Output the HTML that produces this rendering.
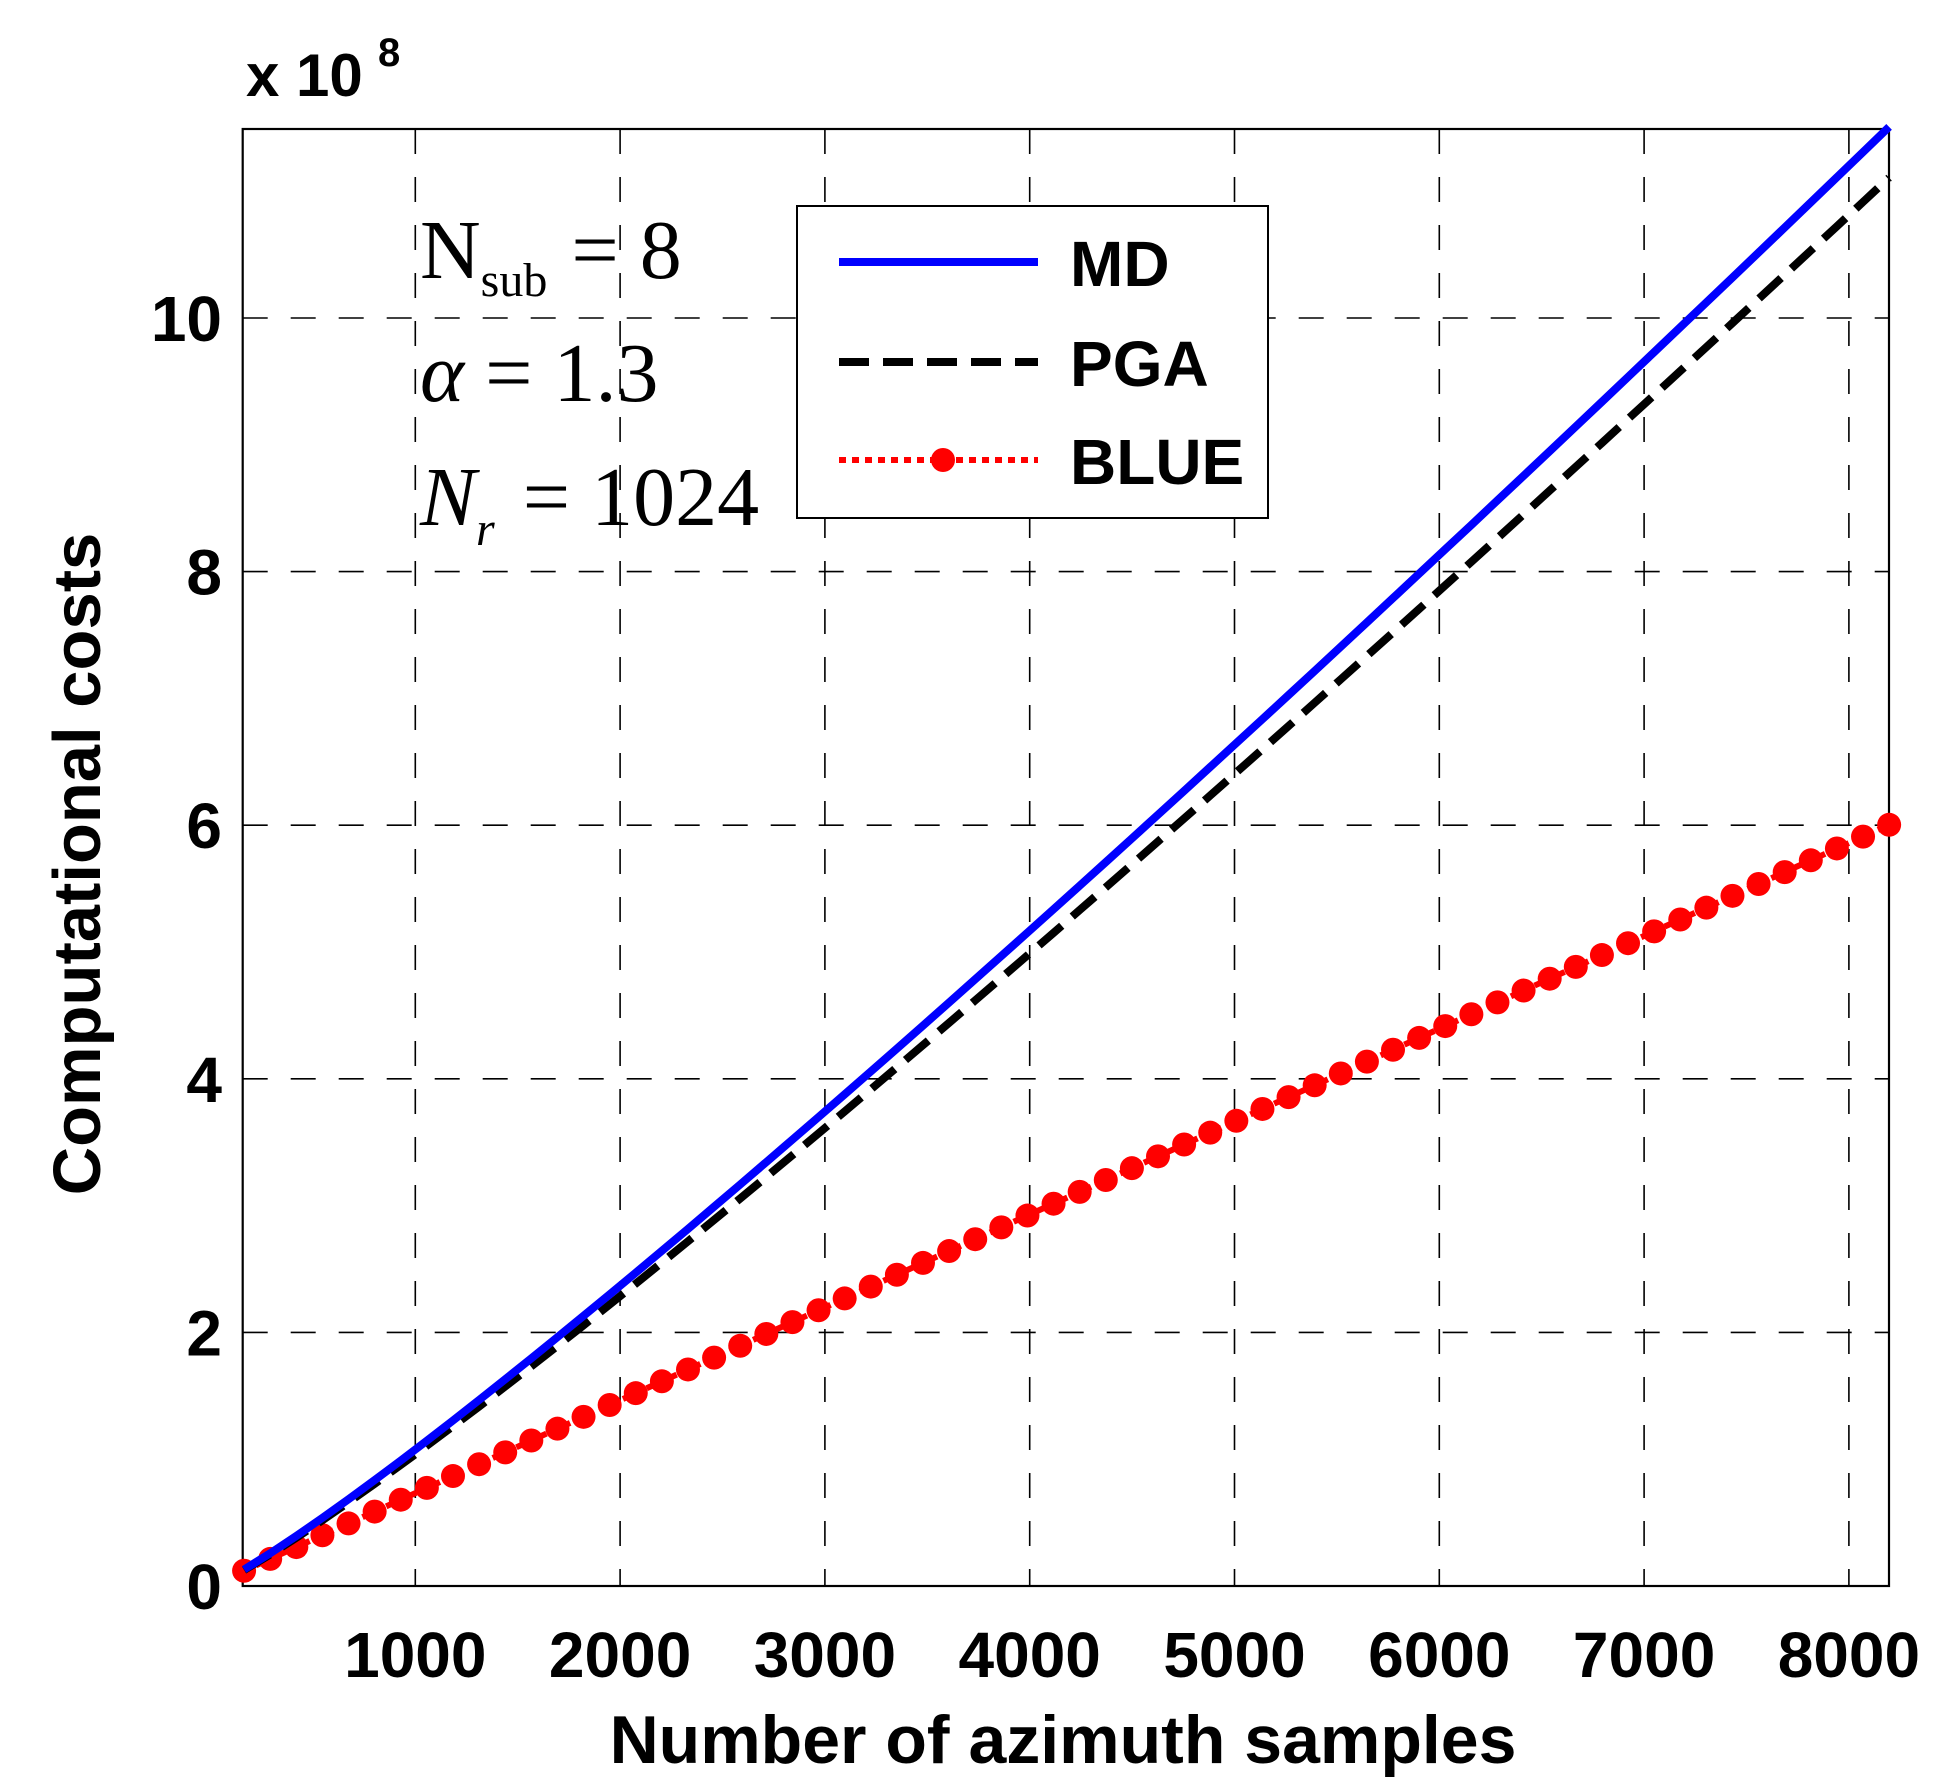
<!DOCTYPE html>
<html><head><meta charset="utf-8"><style>
html,body{margin:0;padding:0;background:#fff;}
svg{display:block;}
.t{font-family:"Liberation Sans",Arial,sans-serif;font-weight:bold;}
.s{font-family:"Liberation Serif","Times New Roman",serif;}
</style></head><body>
<svg id="c" width="1939" height="1782" viewBox="0 0 1939 1782" xmlns="http://www.w3.org/2000/svg">
<rect width="1939" height="1782" fill="#fff"/>
<g id="grid" stroke="#000" stroke-width="1.6" stroke-dasharray="25 23" fill="none"></g>
<rect x="242.7" y="129" width="1646.3" height="1457" fill="none" stroke="#000" stroke-width="2.2"/>
<g id="ticks" class="t" font-size="64" fill="#000"></g>
<g id="series"></g>
<text class="t" x="246" y="96" font-size="60">x 10</text>
<text class="t" x="378" y="66" font-size="40">8</text>
<text class="t" x="1063" y="1763" font-size="68" text-anchor="middle">Number of azimuth samples</text>
<text class="t" x="0" y="0" font-size="67" text-anchor="middle" transform="translate(100,864) rotate(-90)">Computational costs</text>
<text class="s" x="420" y="278" font-size="84">N<tspan font-size="48" dy="18">sub</tspan><tspan dy="-18" dx="24">= 8</tspan></text>
<text class="s" x="420" y="401" font-size="84"><tspan font-style="italic">α</tspan> = 1.3</text>
<text class="s" x="420" y="525" font-size="84"><tspan font-style="italic">N</tspan><tspan font-size="48" font-style="italic" dy="20">r</tspan><tspan dy="-20" dx="28">= 1024</tspan></text>
<rect x="797" y="206" width="471" height="312" fill="#fff" stroke="#000" stroke-width="2"/>
<line x1="839" y1="262" x2="1038" y2="262" stroke="#0000ff" stroke-width="8"/>
<line x1="839" y1="362" x2="1038" y2="362" stroke="#000" stroke-width="8" stroke-dasharray="30 14"/>
<line x1="839" y1="460" x2="1038" y2="460" stroke="#ff0000" stroke-width="6" stroke-dasharray="7 6"/>
<circle cx="943" cy="460" r="12" fill="#ff0000"/>
<text class="t" x="1070" y="286" font-size="64">MD</text>
<text class="t" x="1070" y="386" font-size="64">PGA</text>
<text class="t" x="1070" y="484" font-size="64">BLUE</text>
</svg>
<script>
(function(){
var NS="http://www.w3.org/2000/svg";
function X(n){return 210.5+n*0.2048;}
function Y(v){return 1586-v*126.8;}
function el(t,a,p){var e=document.createElementNS(NS,t);for(var k in a)e.setAttribute(k,a[k]);p.appendChild(e);return e;}
var g=document.getElementById('grid'),tk=document.getElementById('ticks'),s=document.getElementById('series');
for(var i=1;i<=8;i++){var x=X(i*1000);el('line',{x1:x,y1:129,x2:x,y2:1586},g);
 var t=el('text',{x:x,y:1677,'text-anchor':'middle'},tk);t.textContent=i*1000;}
for(var j=2;j<=10;j+=2){var y=Y(j);el('line',{x1:242.7,y1:y,x2:1889,y2:y},g);}
for(var j=0;j<=10;j+=2){var t=el('text',{x:222,y:Y(j)+23,'text-anchor':'end'},tk);t.textContent=j;}
var md=[],pg=[],bl=[];
for(var k=0;k<64;k++){var n=164+k*127.5;var sh=n*Math.log(n)/Math.LN2/106496;
 md.push([X(n),Y(11.5*sh)]);pg.push([X(n),Y(11.1*sh)]);bl.push([X(n),Y(6.0*n/8192)]);}
function pts(a){return a.map(function(p){return p[0].toFixed(1)+','+p[1].toFixed(1);}).join(' ');}
el('polyline',{points:pts(bl),fill:'none',stroke:'#ff0000','stroke-width':6,'stroke-dasharray':'7 6'},s);
bl.forEach(function(p){el('circle',{cx:p[0],cy:p[1],r:12,fill:'#ff0000'},s);});
el('polyline',{points:pts(pg),fill:'none',stroke:'#000','stroke-width':8,'stroke-dasharray':'30 14'},s);
el('polyline',{points:pts(md),fill:'none',stroke:'#0000ff','stroke-width':8},s);
})();
</script>
</body></html>
